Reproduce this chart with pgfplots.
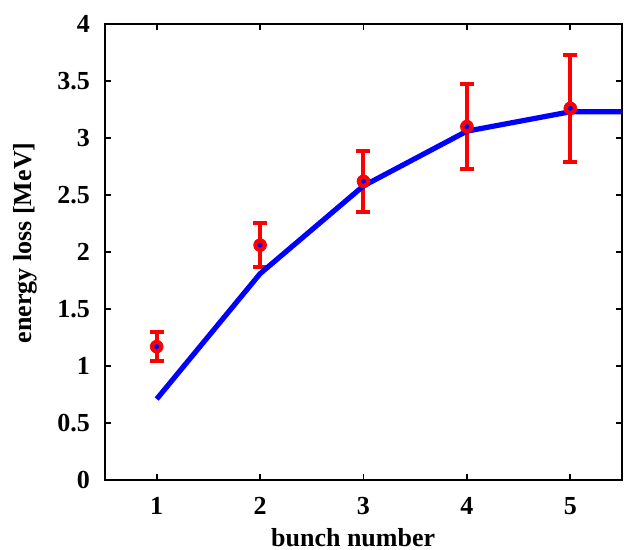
\documentclass[border=0pt]{standalone}
\usepackage{fontspec}
\setmainfont{Liberation Serif}
\usepackage{pgfplots}
\pgfplotsset{compat=1.18}

\begin{document}
\begin{tikzpicture}
\path[use as bounding box] (-52.5pt,-35pt) rectangle (261pt,240pt);
\begin{axis}[
    at={(0,0)}, anchor=south west,
    scale only axis,
    width=258.5pt, height=228pt,
    xmin=0.5, xmax=5.5,
    ymin=0, ymax=4,
    xtick={1,2,3,4,5},
    ytick={0,0.5,1,1.5,2,2.5,3,3.5,4},
    tick align=inside,
    major tick length=3pt,
    axis line style={line width=0.9pt},
    every tick/.style={black, line width=0.9pt},
    font=\fontsize{13}{15}\selectfont\bfseries,
    /pgf/number format/assume math mode=true,
    ticklabel style={font=\fontsize{13}{15}\selectfont\bfseries},
    yticklabel style={xshift=-4pt},
    xticklabel style={yshift=-5pt},
    xlabel={bunch number},
    ylabel={energy loss [MeV]},
    xlabel style={at={(axis description cs:0.48,0)}, anchor=center, yshift=-29pt},
    ylabel style={at={(axis description cs:-0.155,0.52)}, anchor=center},
    clip=false,
]
% measured points with error bars
\addplot[
    only marks, red, mark=*, mark size=3.2pt,
    error bars/.cd, y dir=both, y explicit,
    error bar style={line width=2pt, red},
    error mark options={rotate=90, mark size=3.5pt, line width=2pt, red},
] coordinates {
  (1,1.17) +- (0,0.13)
  (2,2.06) +- (0,0.19)
  (3,2.62) +- (0,0.27)
  (4,3.10) +- (0,0.37)
  (5,3.26) +- (0,0.47)
};
\addplot[only marks, blue, mark=*, mark size=1pt] coordinates {
  (1,1.17) (2,2.06) (3,2.62) (4,3.10) (5,3.26)
};
% simulation
\addplot[blue, line width=2.6pt, no marks] coordinates {
  (1,0.71) (2,1.81) (3,2.58) (4,3.06) (5,3.23) (5.5,3.23)
};
\end{axis}
\end{tikzpicture}
\end{document}
